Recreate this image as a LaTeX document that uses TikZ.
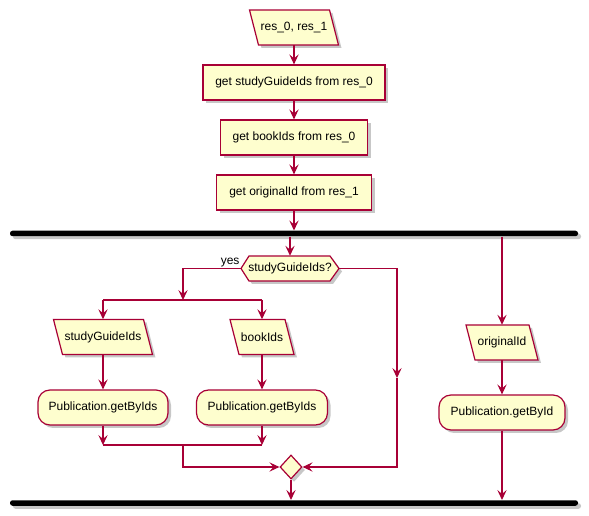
\documentclass[tikz,border=0pt]{standalone}
\usepackage{fontspec}
\setmainfont{Liberation Sans}
\usetikzlibrary{shapes.geometric,arrows.meta,shadows}
\definecolor{pborder}{HTML}{A80036}
\definecolor{pfill}{HTML}{FEFECE}
\def\PX{0.75pt}
% name, cx, cy, width, text
\newcommand\iobox[5]{%
  \path[base] ({#2-#4/2},{#3-17.5}) -- ({#2+#4/2-9},{#3-17.5}) -- ({#2+#4/2},{#3+17.5}) -- ({#2-#4/2+9},{#3+17.5}) -- cycle;
  \node[minimum width=#4*\PX, minimum height=35*\PX, inner sep=0pt] (#1) at (#2,#3) {#5};}
% name, cx, cy, width, text  (hexagon, height 25)
\newcommand\hexbox[5]{%
  \path[base] ({#2-#4/2},#3) -- ({#2-#4/2+8},{#3-12.5}) -- ({#2+#4/2-9},{#3-12.5}) -- ({#2+#4/2},#3) -- ({#2+#4/2-9},{#3+12.5}) -- ({#2-#4/2+8},{#3+12.5}) -- cycle;
  \node[minimum width=#4*\PX, minimum height=25*\PX, inner sep=0pt] (#1) at (#2,#3) {#5};}
\begin{document}
\begin{tikzpicture}[x=0.75pt,y=-0.75pt,
  every node/.style={font=\fontsize{9pt}{11pt}\selectfont},
  shade/.style={drop shadow={shadow xshift=3*\PX, shadow yshift=-3*\PX, opacity=0.22, fill=black}},
  base/.style={draw=pborder, fill=pfill, line width=0.9pt, inner sep=0pt, shade},
  box/.style={base, minimum height=35*\PX},
  act/.style={box, rounded corners=12*\PX},
  bar/.style={fill=black, rounded corners=2.5*\PX, minimum width=568*\PX, minimum height=5.5*\PX, inner sep=0pt, shade},
  arr/.style={draw=pborder, line width=0.9pt, -{Stealth[length=7.5pt,width=7pt,inset=3pt]}},
  ln/.style={draw=pborder, line width=0.9pt}]
\useasboundingbox (0,0) rectangle (589,516);

\iobox{res}{294}{27.5}{89}{res\_0, res\_1}
\node[box, minimum width=182*\PX] (g1) at (294,82.5) {get studyGuideIds from res\_0};
\node[box, minimum width=147*\PX] (g2) at (294,137.5) {get bookIds from res\_0};
\node[box, minimum width=155*\PX] (g3) at (294,192.5) {get originalId from res\_1};
\node[bar] (fork1) at (294,233.5) {};
\hexbox{dec}{290}{268.5}{98}{studyGuideIds?}
\node[anchor=south east, inner sep=1*\PX] (yes) at (dec.west) {yes};
\iobox{sg}{103}{337}{99}{studyGuideIds}
\iobox{bk}{262}{337}{64}{bookIds}
\node[act, minimum width=130*\PX] (p1) at (103,407.5) {Publication.getByIds};
\node[act, minimum width=131*\PX] (p2) at (262,407.5) {Publication.getByIds};
\iobox{od}{502}{342.5}{72}{originalId}
\node[act, minimum width=126*\PX] (p3) at (502,412.5) {Publication.getById};
\node[base, diamond, minimum width=22*\PX, minimum height=24*\PX] (mg) at (291,467) {};
\node[bar] (fork2) at (294,503) {};

\coordinate (s1) at (183,300);
\coordinate (j1) at (183,445);
\coordinate (r1) at (397,378);

\draw[arr] (res.south) -- (g1.north);
\draw[arr] (g1.south) -- (g2.north);
\draw[arr] (g2.south) -- (g3.north);
\draw[arr] (g3.south) -- (g3.south |- fork1.north);
\draw[arr] (dec.north |- fork1.south) -- (dec.north);
\draw[arr] (od.north |- fork1.south) -- (od.north);
\draw[arr] (dec.west) -| (s1);
\draw[ln] (sg.north |- s1) -- (bk.north |- s1);
\draw[arr] (sg.north |- s1) -- (sg.north);
\draw[arr] (bk.north |- s1) -- (bk.north);
\draw[arr] (sg.south) -- (p1.north);
\draw[arr] (bk.south) -- (p2.north);
\draw[arr] (p1.south) -- (p1.south |- j1);
\draw[arr] (p2.south) -- (p2.south |- j1);
\draw[ln] (p1.south |- j1) -- (p2.south |- j1);
\draw[arr] (j1) |- (mg.west);
\draw[arr] (dec.east) -| (r1);
\draw[arr] (r1) |- (mg.east);
\draw[arr] (mg.south) -- (mg.south |- fork2.north);
\draw[arr] (od.south) -- (p3.north);
\draw[arr] (p3.south) -- (p3.south |- fork2.north);
\end{tikzpicture}
\end{document}
